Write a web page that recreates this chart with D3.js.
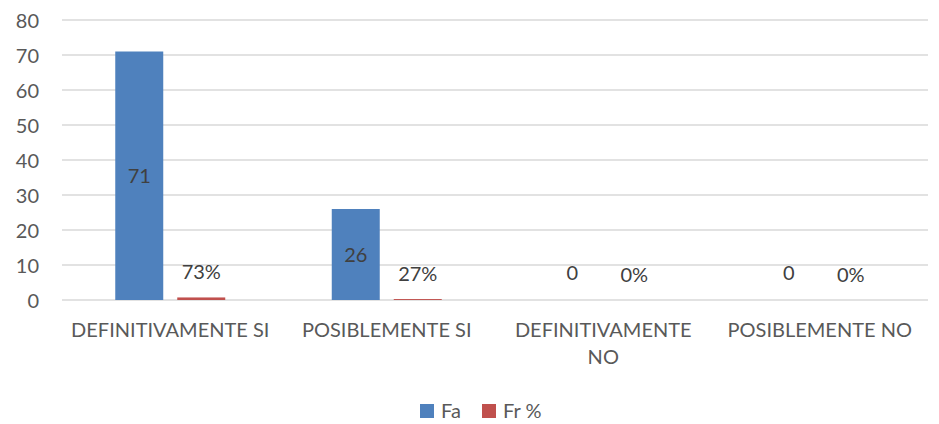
<!DOCTYPE html>
<html><head><meta charset="utf-8">
<script src="https://cdn.jsdelivr.net/npm/d3@7"></script>
<style>body{margin:0;background:#fff}svg{display:block}text{font-family:Lato,"Open Sans",sans-serif}</style>
</head><body>
<svg id="c" width="939" height="424"></svg>
<script>
const categories = ["DEFINITIVAMENTE SI", "POSIBLEMENTE SI", "DEFINITIVAMENTE NO", "POSIBLEMENTE NO"];
const categoryLines = [["DEFINITIVAMENTE SI"], ["POSIBLEMENTE SI"], ["DEFINITIVAMENTE", "NO"], ["POSIBLEMENTE NO"]];
const seriesNames = ["Fa", "Fr %"];
const faValues = [71, 26, 0, 0];
const frValues = [0.73, 0.27, 0, 0];
const frLabels = ["73%", "27%", "0%", "0%"];
const yTicks = [0, 10, 20, 30, 40, 50, 60, 70, 80];
const colors = ["#4F81BD", "#C0504D"];

(function(){
const FS = 20;
const svg = d3.select("#c");
const pL = 62, pR = 928, pT = 20, pB = 300;
const x = d3.scaleBand().domain(categories).range([pL, pR]).paddingInner(0).paddingOuter(0);
const y = d3.scaleLinear().domain([0, 80]).range([pB, pT]);
const xs = d3.scaleBand().domain(seriesNames).range([0, x.bandwidth()]).paddingInner(0.226).paddingOuter(0.859);

svg.append("g").selectAll("line").data(yTicks).join("line")
  .attr("x1", pL).attr("x2", pR)
  .attr("y1", d => y(d)).attr("y2", d => y(d))
  .attr("stroke", "#d9d9d9").attr("stroke-width", 1.3);

const yAxis = d3.axisLeft(y).tickValues(yTicks).tickSize(0).tickPadding(0);
const ga = svg.append("g").attr("transform", "translate(39,0)").call(yAxis);
ga.select(".domain").remove();
ga.selectAll("text").attr("font-size", FS).attr("fill", "#595959").attr("font-family", "Lato,'Open Sans',sans-serif").attr("dy", "0.35em");

const series = [faValues, frValues];
series.forEach((vals, si) => {
  svg.append("g").selectAll("rect").data(vals).join("rect")
    .attr("x", (d, i) => x(categories[i]) + xs(seriesNames[si]))
    .attr("width", xs.bandwidth())
    .attr("y", d => y(d))
    .attr("height", d => pB - y(d))
    .attr("fill", colors[si]);
});

svg.append("g").selectAll("text").data(faValues).join("text")
  .attr("x", (d, i) => x(categories[i]) + xs("Fa") + xs.bandwidth()/2)
  .attr("y", d => d > 0 ? (y(d) + pB)/2 : y(d) - 27)
  .attr("dy", "0.35em").attr("text-anchor", "middle")
  .attr("font-size", FS).attr("fill", "#404040")
  .text(d => d);
svg.append("g").selectAll("text").data(frValues).join("text")
  .attr("x", (d, i) => x(categories[i]) + xs("Fr %") + xs.bandwidth()/2)
  .attr("y", d => y(d) - 25)
  .attr("dy", "0.35em").attr("text-anchor", "middle")
  .attr("font-size", FS).attr("fill", "#404040")
  .text((d, i) => frLabels[i]);

const xl = svg.append("g").selectAll("text").data(categoryLines).join("text")
  .attr("x", (d, i) => x(categories[i]) + x.bandwidth()/2)
  .attr("y", 337)
  .attr("text-anchor", "middle").attr("font-size", FS).attr("fill", "#595959");
xl.selectAll("tspan").data(d => d).join("tspan")
  .attr("x", function(){ return this.parentNode.getAttribute("x"); })
  .attr("dy", (d, j) => j === 0 ? 0 : 27)
  .text(d => d);

const lg = svg.append("g");
const legX = [420, 482];
seriesNames.forEach((n, i) => {
  lg.append("rect").attr("x", legX[i]).attr("y", 404).attr("width", 14).attr("height", 14).attr("fill", colors[i]);
  lg.append("text").attr("x", legX[i] + 21).attr("y", 411).attr("dy", "0.35em")
    .attr("font-size", FS).attr("fill", "#595959").text(n);
});
})();
</script>
</body></html>
